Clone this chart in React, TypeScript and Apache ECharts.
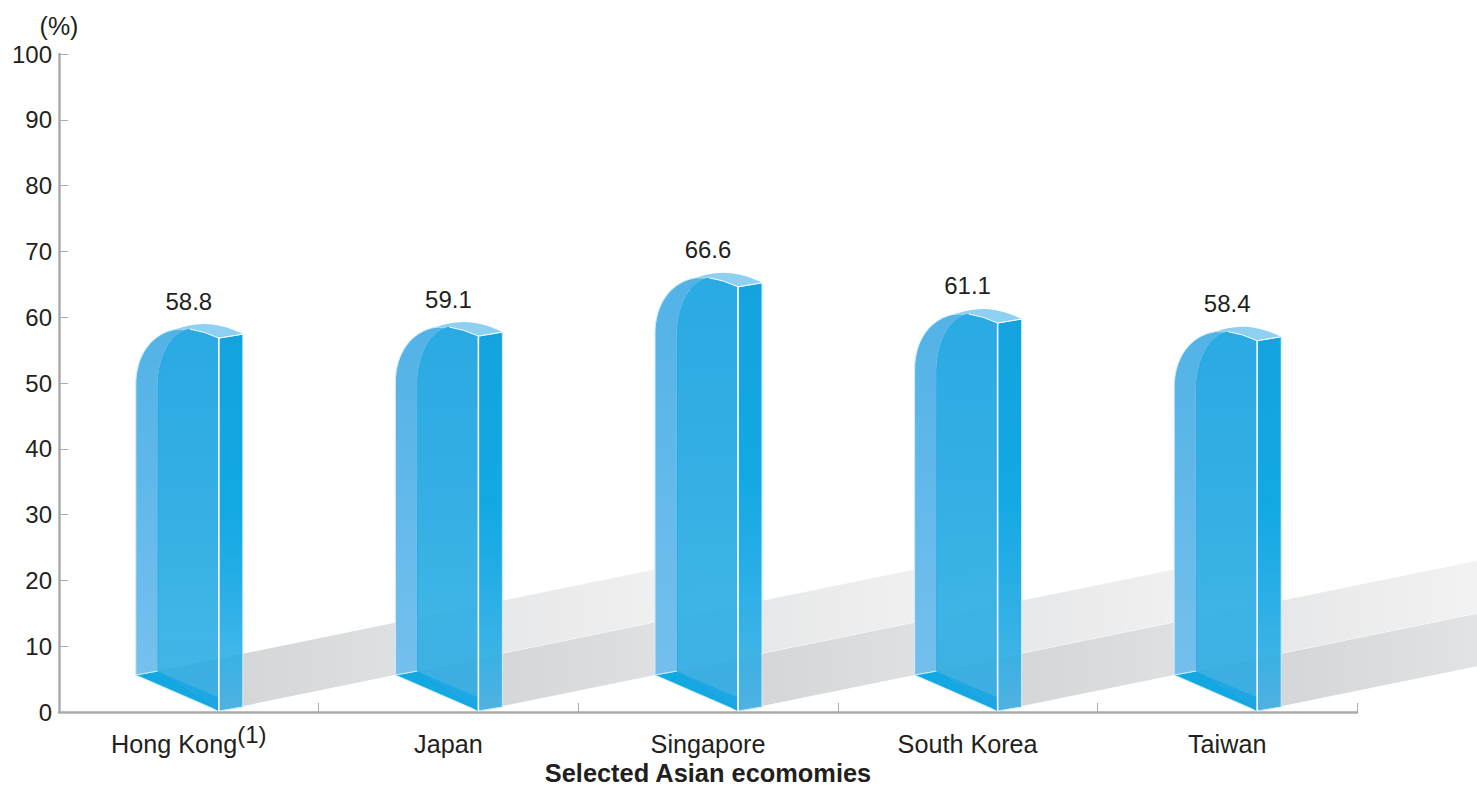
import React, { useEffect, useRef } from "react";
import * as echarts from "echarts";

const categories = ["Hong Kong", "Japan", "Singapore", "South Korea", "Taiwan"];
const values = [58.8, 59.1, 66.6, 61.1, 58.4];
const yTicks = [0, 10, 20, 30, 40, 50, 60, 70, 80, 90, 100];
const superscripts: Record<string, string> = { "Hong Kong": "(1)" };
const xAxisTitle = "Selected Asian ecomomies";
const yAxisTitle = "(%)";

const FONT = '"Liberation Sans", Arial, Helvetica, sans-serif';
const INK = "#231f20";
const AXIS = "#a9abae";

const vGrad = (stops: [number, string][]) => ({
  type: "linear", x: 0, y: 0, x2: 0, y2: 1,
  colorStops: stops.map(([offset, color]) => ({ offset, color })),
});
const hGrad = (stops: [number, string][]) => ({
  type: "linear", x: 0, y: 0, x2: 1, y2: 0,
  colorStops: stops.map(([offset, color]) => ({ offset, color })),
});

const shadowItem = (_: any, api: any) => {
  const [cx, y0] = api.coord([api.value(0), 0]);
  const slope = 0.204;
  const xs = cx - 31, xb = cx + 30, xe = cx + 573;
  const top0 = y0 - 41, bot0 = y0 - 1;
  return {
    type: "polygon",
    shape: {
      points: [
        [xs, top0],
        [xe, top0 - slope * (xe - xs)],
        [xe, bot0 - slope * (xe - xb)],
        [xb, bot0],
      ],
    },
    style: { fill: hGrad([[0, "#d0d1d3"], [0.33, "#dcddde"], [0.55, "#e6e7e8"], [0.85, "#f1f1f2"], [1, "#f6f6f6"]]) },
  };
};

const barItem = (_: any, api: any) => {
  const [cx, y0] = api.coord([api.value(0), 0]);
  const v = api.value(1);
  const T = api.coord([api.value(0), v])[1];
  const p = (dx: number, dy: number) => `${(cx + dx).toFixed(1)} ${(T + dy).toFixed(1)}`;
  const b = (dx: number, dy: number) => `${(cx + dx).toFixed(1)} ${(y0 + dy).toFixed(1)}`;
  const path = (d: string, fill: any, stroke: string | null, lineWidth = 1) => ({
    type: "path",
    shape: { pathData: d },
    style: { fill, stroke: stroke || "none", lineWidth },
  });
  const arch = `Q${p(15, 6)} ${p(30, 13)}`;
  const left = `M${b(-53, -37)} L${p(-53, 60)} C${p(-53, 30)} ${p(-37, 8)} ${p(-12, 4)} L${p(1, 4)} C${p(-20, 8)} ${p(-31, 35)} ${p(-31, 62)} L${b(-31, -41)} Z`;
  const front = `M${b(-31, -41)} L${p(-31, 62)} C${p(-31, 35)} ${p(-20, 8)} ${p(1, 4)} ${arch} L${b(30, -1)} Z`;
  const right = `M${p(30, 13)} L${p(54, 9)} L${b(54, -5)} L${b(30, -1)} Z`;
  const cap = `M${p(-12, 4)} C${p(5, -2)} ${p(25, -5)} ${p(54, 9)} L${p(30, 13)} Q${p(15, 6)} ${p(1, 4)} Z`;
  const floor = `M${b(-53, -37)} L${b(-31, -41)} L${b(30, -15)} L${b(30, -1)} Z`;
  return {
    type: "group",
    children: [
      path(floor, "#12a8e2", "#cdeefb", 0.8),
      path(left, vGrad([[0, "#52b2e6"], [0.5, "#62b9ea"], [1, "rgba(112,190,237,0.96)"]]), "#cdeefb", 1),
      path(front, vGrad([[0, "#2aaae3"], [0.5, "#36afe4"], [0.75, "rgba(42,173,228,0.9)"], [1, "rgba(29,165,227,0.82)"]]), "#1a9fdc", 0.8),
      path(right, vGrad([[0, "#14a3df"], [0.45, "#12a9e3"], [0.65, "#25ade6"], [0.85, "rgba(30,170,230,0.85)"], [1, "rgba(50,170,228,0.82)"]]), "#cdeefb", 1),
      path(cap, "#8dd0f1", null),
      {
        type: "line",
        shape: { x1: cx + 30, y1: T + 13, x2: cx + 30, y2: y0 - 1 },
        style: { stroke: "#ffffff", lineWidth: 1.5 },
      },
      path(`M${p(1, 4)} ${arch} L${p(54, 9)}`, "none", "#ffffff", 1),
      {
        type: "text",
        style: {
          text: v.toFixed(1), x: cx, y: T - 24, align: "center", verticalAlign: "middle",
          fontSize: 24, fontFamily: FONT, fill: INK,
        },
      },
    ],
  };
};

export default function App() {
  const ref = useRef<HTMLDivElement>(null);
  useEffect(() => {
    document.body.style.margin = "0";
    const chart = echarts.init(ref.current!, null, { renderer: "svg" });
    const data = categories.map((_, i) => [i, values[i]]);
    chart.setOption({
      animation: false,
      backgroundColor: "#ffffff",
      grid: { left: 59, width: 1298, top: 54, height: 658, containLabel: false, outerBoundsMode: "none" },
      xAxis: {
        type: "category",
        data: categories,
        name: xAxisTitle,
        nameLocation: "middle",
        nameGap: 50,
        nameTextStyle: { fontFamily: FONT, fontSize: 25.4, fontWeight: "bold", color: INK, lineHeight: 20 },
        axisLine: { lineStyle: { color: AXIS, width: 2.5 } },
        axisTick: { show: true, inside: true, length: 9, lineStyle: { color: AXIS, width: 1 } },
        axisLabel: {
          interval: 0,
          margin: 14,
          formatter: (c: string) => (superscripts[c] ? `{t|${c}}{s|${superscripts[c]}}` : `{t|${c}}`),
          rich: {
            t: { fontFamily: FONT, fontSize: 25.2, color: INK, lineHeight: 30, verticalAlign: "bottom" },
            s: { fontFamily: FONT, fontSize: 24, color: INK, lineHeight: 30, verticalAlign: "bottom", padding: [0, 0, 10, 0] },
          },
        },
      },
      yAxis: {
        type: "value",
        min: yTicks[0],
        max: yTicks[yTicks.length - 1],
        interval: 10,
        name: yAxisTitle,
        nameLocation: "end",
        nameGap: 16,
        nameTextStyle: { fontFamily: FONT, fontSize: 25, color: INK, align: "center" },
        splitLine: { show: false },
        axisLine: { show: true, lineStyle: { color: AXIS, width: 2.5 } },
        axisTick: { show: true, inside: true, length: 9, lineStyle: { color: AXIS, width: 1 } },
        axisLabel: { margin: 7, fontFamily: FONT, fontSize: 24, color: INK },
      },
      series: [
        { type: "custom", coordinateSystem: "cartesian2d", silent: true, clip: false, z: 1, renderItem: shadowItem, encode: { x: 0, y: 1 }, data },
        { type: "custom", coordinateSystem: "cartesian2d", silent: true, clip: false, z: 2, renderItem: barItem, encode: { x: 0, y: 1 }, data },
      ],
    });
    return () => chart.dispose();
  }, []);
  return <div ref={ref} style={{ position: "fixed", left: 0, top: 0, width: 1477, height: 787 }} />;
}
